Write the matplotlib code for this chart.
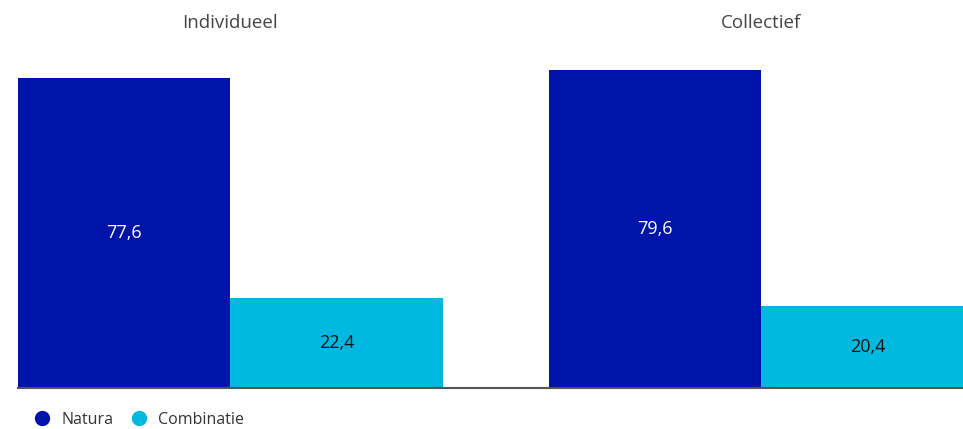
import matplotlib
matplotlib.use('Agg')
import matplotlib.pyplot as plt
from matplotlib.lines import Line2D

plt.rcParams['font.family'] = ['Open Sans', 'DejaVu Sans']

groups = ['Individueel', 'Collectief']
series = ['Natura', 'Combinatie']
natura = [77.6, 79.6]
combinatie = [22.4, 20.4]
colors = ['#0014AA', '#00B9E0']
text_colors = ['white', '#111111']

fig = plt.figure(figsize=(9.63, 4.29), dpi=100)
ax = fig.add_axes([18 / 963, 1 - 388 / 429, 1 - 18 / 963, (388 - 69.5) / 429])

group_x = [0.0, 2.5]
for gi, g in enumerate(groups):
    for si, vals in enumerate([natura, combinatie]):
        x = group_x[gi] + si
        v = vals[gi]
        ax.bar(x, v, width=1.0, color=colors[si], linewidth=0)
        ax.text(x, v / 2, f'{v:.1f}'.replace('.', ','), ha='center', va='center',
                fontsize=13, color=text_colors[si])
    ax.text(group_x[gi] + 0.5, 1.0 + 46 / (388 - 69.5), g, transform=ax.get_xaxis_transform(),
            ha='center', va='center', fontsize=13.5, color='#444444')

ax.set_xlim(-0.5, 3.95)
ax.set_ylim(0, 79.6)
ax.set_xticks([])
ax.set_yticks([])
for s in ['top', 'right', 'left']:
    ax.spines[s].set_visible(False)
ax.spines['bottom'].set_color('#555555')
ax.spines['bottom'].set_linewidth(1.5)

handles = [Line2D([], [], marker='o', linestyle='none', markersize=10,
                  markerfacecolor=c, markeredgecolor=c) for c in colors]
fig.legend(handles, series, loc='center left', bbox_to_anchor=(20 / 963, 1 - 420 / 429),
           ncol=2, frameon=False, fontsize=11.5, handletextpad=0.2, columnspacing=0.6,
           labelcolor='#333333', borderaxespad=0)

fig.savefig('out.png', dpi=100)
